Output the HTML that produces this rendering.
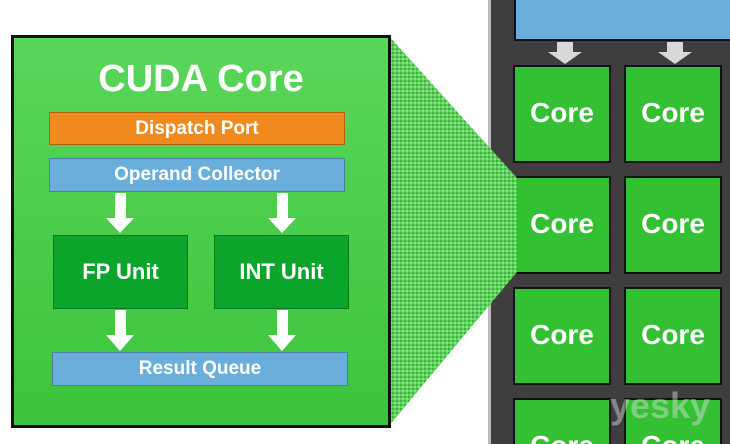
<!DOCTYPE html>
<html style="margin:0;width:730px;height:444px;overflow:hidden"><head><style>
body{margin:0;width:730px;height:444px;overflow:hidden;background:#fff;font-family:"Liberation Sans",Arial,sans-serif;position:relative}
.a{position:absolute}
.bx{position:absolute;color:#fff;font-weight:bold;text-align:center;box-sizing:border-box}
.core{position:absolute;width:98px;height:98px;background:#33c133;border:2px solid #111;box-sizing:border-box;color:#fff;font-weight:bold;font-size:28px;text-align:center;line-height:92px}
</style></head><body>
<div class="a" style="left:488px;top:0;width:242px;height:444px;background:#3f3d3d;border-left:3px solid #bbb;box-sizing:border-box"></div>
<div class="a" style="left:514px;top:-2px;width:220px;height:43px;background:#6aaedb;border:2px solid #111;box-sizing:border-box"></div>
<svg class="a" style="left:0;top:0" width="730" height="444">
<polygon points="557,42 573,42 573,52 582,52 565,64 548,52 557,52" fill="#d8d8d8"/>
<polygon points="667,42 683,42 683,52 692,52 675,64 658,52 667,52" fill="#d8d8d8"/>
</svg>
<div class="core" style="left:513px;top:65px">Core</div>
<div class="core" style="left:624px;top:65px">Core</div>
<div class="core" style="left:513px;top:176px">Core</div>
<div class="core" style="left:624px;top:176px">Core</div>
<div class="core" style="left:513px;top:287px">Core</div>
<div class="core" style="left:624px;top:287px">Core</div>
<div class="core" style="left:513px;top:398px;height:46px;border-bottom:none">Core</div>
<div class="core" style="left:624px;top:398px;height:46px;border-bottom:none">Core</div>
<svg class="a" style="left:0;top:0" width="730" height="444">
<defs><pattern id="h" width="4" height="4" patternUnits="userSpaceOnUse"><rect width="4" height="4" fill="#5fd25f"/><rect width="2" height="2" fill="#3cb53c"/><rect x="2" y="2" width="2" height="2" fill="#8ee08e"/></pattern></defs>
<polygon points="388,35 517,178 517,272 388,427" fill="url(#h)"/>
</svg>
<div class="a" style="left:11px;top:35px;width:380px;height:393px;background:linear-gradient(#5ad65a,#3cc43c);border:3px solid #111;box-sizing:border-box"></div>
<div class="bx" style="left:11px;top:58px;width:380px;font-size:38px">CUDA Core</div>
<div class="bx" style="left:49px;top:112px;width:296px;height:33px;background:#f08a1e;border:1px solid #b06010;font-size:19px;line-height:31px">Dispatch Port</div>
<div class="bx" style="left:49px;top:158px;width:296px;height:34px;background:#6aaedb;border:1px solid #4a80a0;font-size:19px;line-height:32px">Operand Collector</div>
<div class="bx" style="left:53px;top:235px;width:135px;height:74px;background:#0aa52a;border:1px solid #077a1e;font-size:22px;line-height:72px">FP Unit</div>
<div class="bx" style="left:214px;top:235px;width:135px;height:74px;background:#0aa52a;border:1px solid #077a1e;font-size:22px;line-height:72px">INT Unit</div>
<div class="bx" style="left:52px;top:352px;width:296px;height:34px;background:#6aaedb;border:1px solid #4a80a0;font-size:19px;line-height:32px">Result Queue</div>
<svg class="a" style="left:0;top:0" width="730" height="444">
<g fill="#fff">
<polygon points="115,193 126,193 126,218 134,218 120,233 106,218 115,218"/>
<polygon points="277,193 288,193 288,218 296,218 282,233 268,218 277,218"/>
<polygon points="115,310 126,310 126,335 134,335 120,351 106,335 115,335"/>
<polygon points="277,310 288,310 288,335 296,335 282,351 268,335 277,335"/>
</g>
<text x="660" y="418" font-family="Liberation Sans" font-size="36" font-weight="bold" fill="#ddd" fill-opacity="0.45" text-anchor="middle">yesky</text>
</svg>
</body></html>
